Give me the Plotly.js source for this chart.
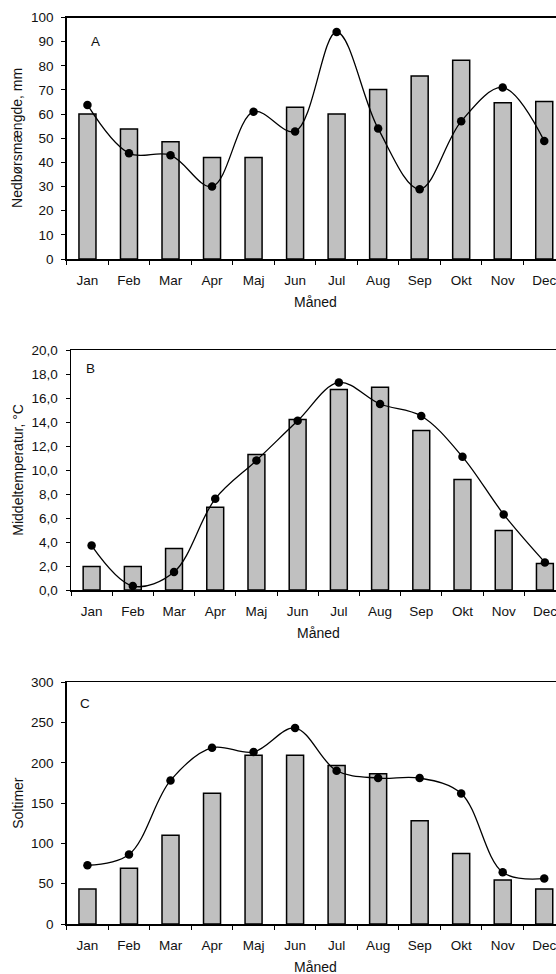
<!DOCTYPE html>
<html>
<head>
<meta charset="utf-8">
<script src="https://cdn.plot.ly/plotly-3.0.1.min.js"></script>
<style>
html,body{margin:0;padding:0;overflow:hidden;background:#fff;}
#chart{width:580px;height:974px;}
</style>
</head>
<body>
<div id="chart"></div>
<script>
// ---- data ----
const months = ["Jan","Feb","Mar","Apr","Maj","Jun","Jul","Aug","Sep","Okt","Nov","Dec"];

// A: Nedbørsmængde, mm
const precipBars  = [60, 53.8, 48.6, 42, 42, 62.8, 60, 70.2, 75.8, 82.3, 64.7, 65.2];
const precipLine  = [63.8, 43.8, 43, 30, 61, 52.8, 94, 54, 28.9, 57, 71, 48.9];

// B: Middeltemperatur, °C
const tempBars    = [1.95, 1.95, 3.45, 6.9, 11.3, 14.2, 16.7, 16.9, 13.3, 9.2, 4.95, 2.2];
const tempLine    = [3.7, 0.33, 1.5, 7.6, 10.8, 14.1, 17.3, 15.5, 14.5, 11.1, 6.3, 2.3];

// C: Soltimer
const sunBars     = [43.5, 69.2, 110.2, 162.4, 209.3, 209.3, 196.8, 186.5, 128, 87.4, 54.7, 43.5];
const sunLine     = [72.9, 86.2, 178.2, 218.8, 213.4, 243.2, 190.2, 181.1, 181.1, 162, 64.2, 56.4];

const panelLetters = ["A","B","C"];
const yTitles = ["Nedbørsmængde, mm", "Middeltemperatur, °C", "Soltimer"];
const xTitle = "Måned";

// ---- layout helpers ----
const W = 580, H = 974;
const dx = (l, r) => [l / W, r / W];
const dy = (t, b) => [1 - b / H, 1 - t / H];
const FONT = {family: "Liberation Sans, Arial, sans-serif", size: 13.5, color: "#111"};
const TFONT = {family: "Liberation Sans, Arial, sans-serif", size: 14, color: "#111"};

const panels = [
  {bars: precipBars, line: precipLine, xd: dx(66.7, 565), yd: dy(17.5, 259), range: [0, 100], dtick: 10, fmt: "d",
   letter: [95.7, 41.7], top: 17.5, bottom: 259, left: 66.7},
  {bars: tempBars, line: tempLine, xd: dx(71, 565.5), yd: dy(350, 590), range: [0, 20], dtick: 2, fmt: ".1f",
   letter: [90, 368.3], top: 350, bottom: 590, left: 71},
  {bars: sunBars, line: sunLine, xd: dx(66.7, 565), yd: dy(682.3, 924), range: [0, 300], dtick: 50, fmt: "d",
   letter: [85, 703.3], top: 682.3, bottom: 924, left: 66.7}
];

const traces = [];
const layout = {
  width: W, height: H,
  margin: {l: 0, r: 0, t: 0, b: 0},
  paper_bgcolor: "#fff", plot_bgcolor: "#fff",
  showlegend: false,
  separators: ",.",
  font: FONT,
  bargap: 0.59,
  annotations: []
};

panels.forEach((p, i) => {
  const n = i + 1;
  const xa = n === 1 ? "x" : "x" + n;
  const ya = n === 1 ? "y" : "y" + n;
  traces.push({
    type: "bar", x: months, y: p.bars, xaxis: xa, yaxis: ya,
    marker: {color: "#C0C0C0", line: {color: "#000", width: 1.5}},
    hoverinfo: "skip"
  });
  traces.push({
    type: "scatter", mode: "lines+markers", x: months, y: p.line, xaxis: xa, yaxis: ya,
    line: {color: "#000", width: 1.3, shape: "spline", smoothing: 1},
    marker: {color: "#000", size: 8.5},
    hoverinfo: "skip"
  });
  const xk = n === 1 ? "xaxis" : "xaxis" + n;
  const yk = n === 1 ? "yaxis" : "yaxis" + n;
  layout[xk] = {
    domain: p.xd, anchor: ya, type: "category", categoryarray: months,
    range: [-0.5, 11.5], fixedrange: true,
    showline: true, linecolor: "#000", linewidth: 1.5, mirror: true,
    ticks: "outside", ticklen: 4, tickwidth: 1, tickcolor: "#000",
    tickson: "boundaries", showgrid: false, zeroline: false,
    tickfont: FONT, ticklabelstandoff: 8
  };
  layout[yk] = {
    domain: p.yd, anchor: xa, range: p.range, dtick: p.dtick, tick0: 0,
    tickformat: p.fmt, fixedrange: true,
    showline: true, linecolor: "#000", linewidth: 1.5,
    ticks: "outside", ticklen: 4, tickwidth: 1, tickcolor: "#000",
    showgrid: false, zeroline: false, tickfont: FONT, ticklabelstandoff: 5
  };
  // inner half of crossing ticks
  const yk2 = "yaxis" + (n + 3), xk2 = "xaxis" + (n + 3);
  layout[yk2] = {
    domain: p.yd, anchor: xa, overlaying: ya, range: p.range, dtick: p.dtick, tick0: 0,
    ticks: "inside", ticklen: 4, tickwidth: 1, tickcolor: "#000",
    showticklabels: false, showline: false, showgrid: false, zeroline: false, fixedrange: true
  };
  layout[xk2] = {
    domain: p.xd, anchor: ya, overlaying: xa, range: [0, 12], dtick: 1, tick0: 0,
    ticks: "inside", ticklen: 4, tickwidth: 1, tickcolor: "#000",
    showticklabels: false, showline: false, showgrid: false, zeroline: false, fixedrange: true
  };
  // panel letter
  layout.annotations.push({
    xref: "paper", yref: "paper", x: p.letter[0] / W, y: 1 - p.letter[1] / H,
    text: panelLetters[i], showarrow: false, xanchor: "center", yanchor: "middle", font: FONT
  });
  // y title
  layout.annotations.push({
    xref: "paper", yref: "paper", x: 17.7 / W, y: 1 - ((p.top + p.bottom) / 2) / H,
    text: yTitles[i], showarrow: false, textangle: -90, xanchor: "center", yanchor: "middle", font: TFONT
  });
  // x title
  layout.annotations.push({
    xref: "paper", yref: "paper", x: ((p.left + 565) / 2) / W, y: 1 - (p.bottom + 43) / H,
    text: xTitle, showarrow: false, xanchor: "center", yanchor: "middle", font: TFONT
  });
});

Plotly.newPlot("chart", traces, layout, {staticPlot: true, displayModeBar: false});
</script>
</body>
</html>
